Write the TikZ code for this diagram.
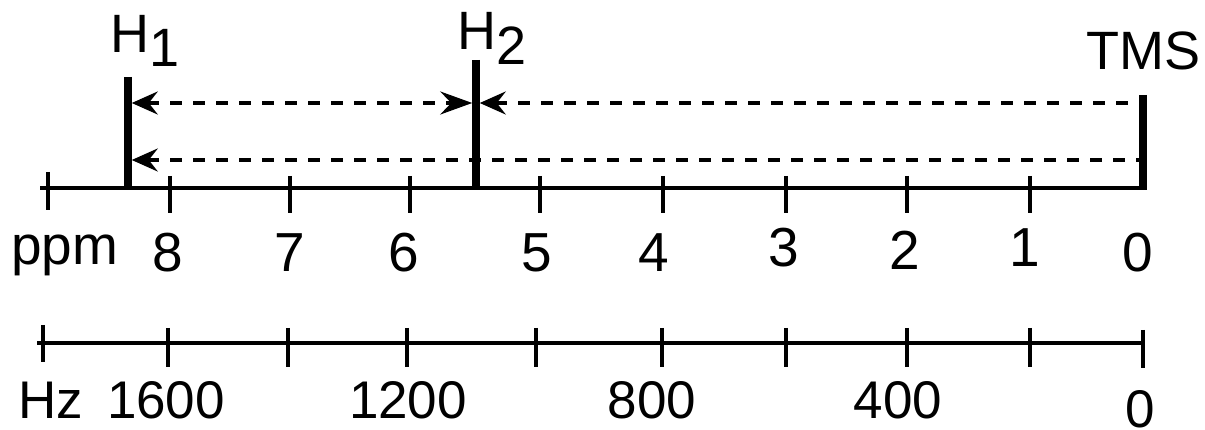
\documentclass[tikz,border=0pt]{standalone}
\usepackage{fontspec}
\setmainfont{Liberation Sans}
\usetikzlibrary{arrows.meta}
\begin{document}
\begin{tikzpicture}[x=1pt,y=-1pt,
  lbl/.style={inner sep=0pt, font=\fontsize{54}{60}\selectfont},
  num/.style={inner sep=0pt, font=\fontsize{55}{60}\selectfont},
  hznum/.style={inner sep=0pt, font=\fontsize{53}{60}\selectfont},
  axisline/.style={line width=4pt},
  tickline/.style={line width=3.5pt},
  peakline/.style={line width=7.5pt},
  dashline/.style={line width=3.5pt, dash pattern=on 12pt off 11pt},
  >={Stealth[length=26pt,width=23pt,inset=9pt]}
]
\useasboundingbox (0,0) rectangle (1205,430);
% peak lines
\coordinate (h1top) at (128,77);  \coordinate (h1bot) at (128,188);
\coordinate (h2top) at (476,60);  \coordinate (h2bot) at (476,188);
\coordinate (tmstop) at (1143,95); \coordinate (tmsbot) at (1143,190);
% axes
\coordinate (axAl) at (40,188);  \coordinate (axAr) at (1143,188);
\coordinate (axBl) at (37,343);  \coordinate (axBr) at (1143,343);
\draw[axisline] (axAl) -- (axAr);
\draw[axisline] (axBl) -- (axBr);
\foreach \x/\a/\b in {48/172/210,170/176/213,290/176/213,410/176/213,540/176/213,663/176/213,786/176/213,907/176/213,1030/176/213}{
  \coordinate (ta) at (\x,\a); \coordinate (tb) at (\x,\b);
  \draw[tickline] (ta) -- (tb);
}
\foreach \x/\a/\b in {43/325/362,168/328/367,288/328/367,407/328/367,536/328/367,662/328/367,786/328/367,907/328/367,1030/328/367,1143/330/368}{
  \coordinate (ta) at (\x,\a); \coordinate (tb) at (\x,\b);
  \draw[tickline] (ta) -- (tb);
}
\draw[peakline] (h1top) -- (h1bot);
\draw[peakline] (h2top) -- (h2bot);
\draw[peakline] (tmstop) -- (tmsbot);
% dashed connectors
\coordinate (h1u) at (131.75,103); \coordinate (h2ul) at (472.25,103);
\coordinate (h2ur) at (479.75,103); \coordinate (tmsu) at (1139.25,103);
\coordinate (h1l) at (131.75,160); \coordinate (tmsl) at (1139.25,160);
\draw[dashline, {Stealth[length=26pt,width=23pt,inset=9pt]}-{Stealth[length=32pt,width=23pt,inset=11pt]}] (h1u) -- (h2ul);
\draw[dashline, <-] (h2ur) -- (tmsu);
\draw[dashline, <-] (h1l) -- (tmsl);
% labels
\node[lbl, anchor=base west] (H1) at (110,53) {H\raisebox{-14pt}{1}};
\node[lbl, anchor=base west] (H2) at (457,50) {H\raisebox{-15pt}{2}};
\node[lbl, anchor=base east] (TMS) at (1201,70) {TMS};
\node[num, anchor=base west] (ppm) at (11,265) {ppm};
\node[hznum, anchor=base west] (Hz) at (18,418) {Hz};
\foreach \n/\x/\y in {8/168/272,7/290/272,6/404/272,5/537/272,4/654/272,3/784/267,2/905/270,1/1025/267,0/1138/272}{
  \node[num, anchor=base] (p\n) at (\x,\y) {\n};
}
\foreach \n/\x/\y in {1600/166/418,1200/408/418,800/652/418,400/898/418,0/1140/427}{
  \node[hznum, anchor=base] (z\n) at (\x,\y) {\n};
}
\end{tikzpicture}
\end{document}
